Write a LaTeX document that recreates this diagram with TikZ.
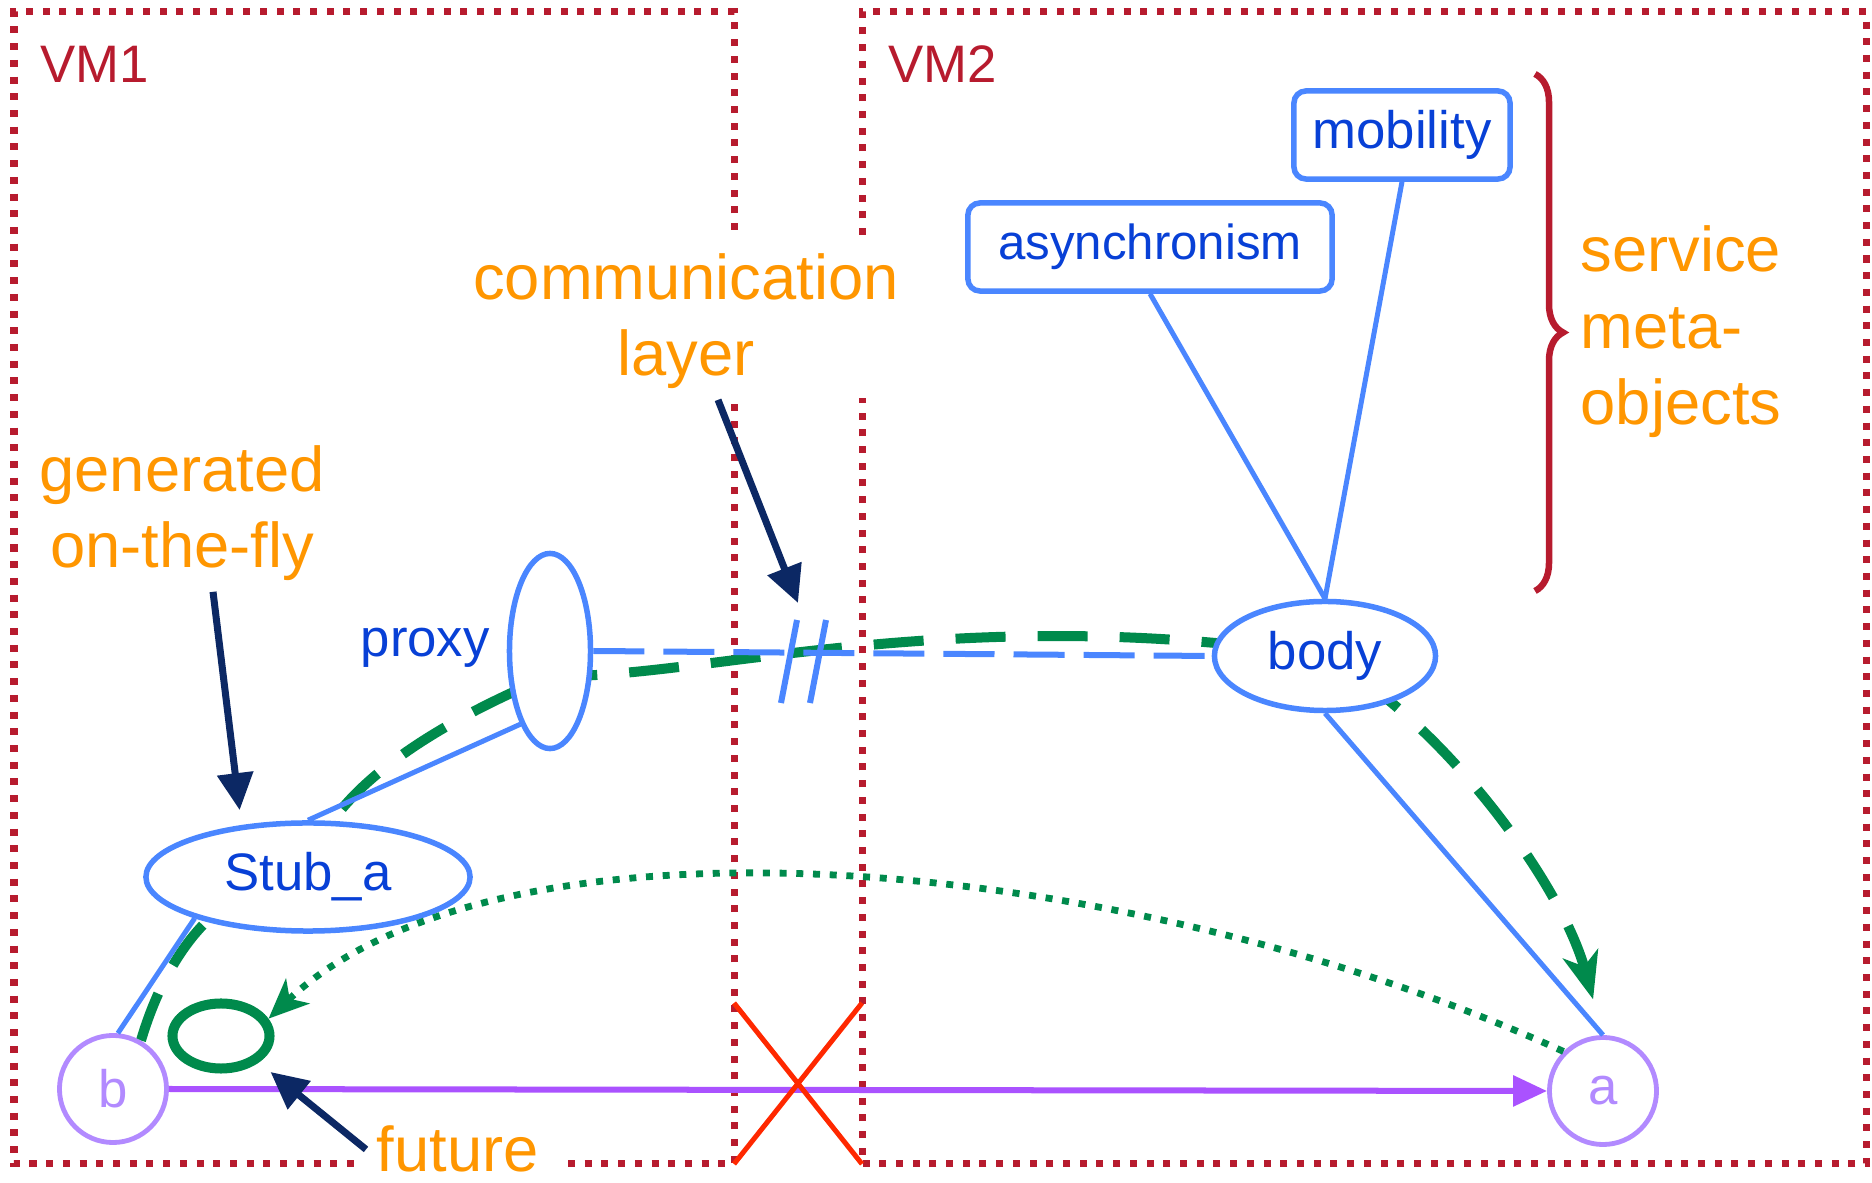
\documentclass[tikz,border=0pt]{standalone}
\usepackage{fontspec}
\setmainfont{Liberation Sans}
\usetikzlibrary{shapes.geometric,arrows.meta,decorations.pathreplacing,calc,backgrounds}

\definecolor{vmred}{RGB}{183,27,46}
\definecolor{noteorange}{RGB}{255,150,0}
\definecolor{objline}{RGB}{74,134,255}
\definecolor{objtext}{RGB}{8,64,214}
\definecolor{flowgreen}{RGB}{0,138,76}
\definecolor{pointnavy}{RGB}{12,40,100}
\definecolor{callpurple}{RGB}{170,82,255}
\definecolor{actpurple}{RGB}{178,138,255}
\definecolor{cutred}{RGB}{255,40,0}

\begin{document}
\begin{tikzpicture}[x=0.01cm, y=0.01cm,
      every node/.append style={inner sep=0pt},
      vm/.style={vmred, line width=0.07cm, dash pattern=on 0.07cm off 0.097cm},
      note/.style={text=noteorange, font=\fontsize{18}{21.8}\selectfont, align=center, inner sep=0.1cm},
      meta/.style={draw=objline, line width=0.055cm, rounded corners=0.12cm, fill=white, text=objtext, font=\fontsize{15}{18}\selectfont},
      obj/.style={ellipse, draw=objline, line width=0.055cm, fill=white, text=objtext, font=\fontsize{15}{18}\selectfont},
      active/.style={circle, draw=actpurple, line width=0.048cm, minimum size=1.07cm, fill=white, text=actpurple, font=\fontsize{15}{18}\selectfont}]
    \tikzstyle{word} = [font=\fontsize{15}{18}\selectfont, text=objtext]
    \tikzstyle{wire} = [objline, line width=0.05cm]
    \tikzstyle{pointer} = [pointnavy, line width=0.07cm, -{Triangle[length=0.37cm, width=0.35cm]}]
    \tikzstyle{flow} = [flowgreen, line width=0.1cm, dash pattern=on 0.5cm off 0.32cm, -{Stealth[length=0.47cm, width=0.36cm, inset=0.13cm]}]
    \tikzstyle{reply} = [flowgreen, line width=0.068cm, dash pattern=on 0.07cm off 0.097cm, -{Stealth[length=0.4cm, width=0.34cm, inset=0.11cm]}]
    \useasboundingbox (0,0) rectangle (1872,-1183);

    \node [word, anchor=base west, text=vmred] (vm1_word) at (40,-83) {VM1};
    \node [word, anchor=base west, text=vmred] (vm2_word) at (888,-83) {VM2};

    \node [meta, minimum width=2.16cm, minimum height=0.88cm] (mobility) at (1402,-135) {mobility};
    \node [meta, minimum width=3.64cm, minimum height=0.88cm, font=\fontsize{14}{17}\selectfont] (asynchronism) at (1150,-247) {asynchronism};

    \node [obj, minimum width=2.21cm, minimum height=1.09cm] (body) at (1325,-656) {body};
    \node [obj, minimum width=0.81cm, minimum height=1.95cm] (proxy) at (550,-651) {};
    \node [word, anchor=base west] (proxy_word) at (360,-657) {proxy};
    \node [obj, minimum width=3.24cm, minimum height=1.08cm] (stub_a) at (308,-877) {Stub\_a};

    \node [active] (obj_b) at (113,-1089) {b};
    \node [active] (obj_a) at (1603,-1091) {a};
    \node [ellipse, draw=flowgreen, line width=0.1cm, minimum width=0.97cm, minimum height=0.65cm, fill=white] (future) at (221,-1036) {};

    \node [note, anchor=base] (comm_word) at (686,-376) {communication\\layer};
    \node [note, anchor=base] (gen_word) at (182,-568) {generated\\on-the-fly};
    \node [note, anchor=base west] (future_word) at (366,-1172) {future};
    \node [note, anchor=base west, align=left] (service_word) at (1570,-425) {service\\meta-\\objects};

    \coordinate (proxy_mid) at ($(proxy.center)+(0,-25)$);

    \begin{pgfonlayer}{background}
      \draw[vm] (734,-230) -- (734,-12) -- (14,-12) -- (14,-1164) -- (359,-1164);
      \draw[vm] (568,-1164) -- (734,-1164) -- (734,-398);
      \draw[vm] (862,-235) -- (862,-12) -- (1866,-12) -- (1866,-1164) -- (862,-1164) -- (862,-398);
      \draw[flow, shorten >=0.37cm] (obj_b.60) .. controls (165,-960) and (215,-880) .. (stub_a.center)
        .. controls (320,-800) and (420,-730) .. (proxy_mid)
        .. controls (700,-680) and (950,-600) .. (body.center)
        .. controls (1440,-720) and (1560,-880) .. (obj_a.north);
    \end{pgfonlayer}

    \draw[vmred, line width=0.065cm, decorate, decoration={brace, amplitude=0.28cm}] (1535,-74) -- (1535,-591);

    \draw[wire] (asynchronism.south) -- (body.north);
    \draw[wire] (mobility.south) -- (body.north);
    \draw[wire] (stub_a.north) -- (proxy.-112);
    \draw[wire] (stub_a.200) -- (obj_b.85);
    \draw[wire] (body.south) -- (obj_a.north);
    \draw[wire, line width=0.06cm, dash pattern=on 0.51cm off 0.19cm] (proxy.east) -- (body.west);

    \coordinate (cut) at (804,-661);
    \draw[wire, line width=0.06cm] ($(cut)+(-7,41)$) -- ($(cut)+(-23,-42)$);
    \draw[wire, line width=0.06cm] ($(cut)+(22,41)$) -- ($(cut)+(6,-42)$);

    \draw[reply] (obj_a.135) .. controls (1120,-850) and (500,-800) .. (future.20);

    \draw[callpurple, line width=0.06cm, -{Triangle[length=0.34cm, width=0.3cm]}] (obj_b.east) -- (obj_a.west);
    \draw[cutred, line width=0.05cm] (734,-1003) -- (862,-1164) (862,-1003) -- (734,-1164);

    \draw[pointer] ([xshift=0.32cm]comm_word.south) -- ($(cut)+(-6,58)$);
    \draw[pointer, shorten >=0.15cm] ([xshift=0.31cm]gen_word.south) -- (stub_a.142);
    \draw[pointer, shorten >=0.15cm] (future_word.west) -- (future.-35);
  \end{tikzpicture}
\end{document}
